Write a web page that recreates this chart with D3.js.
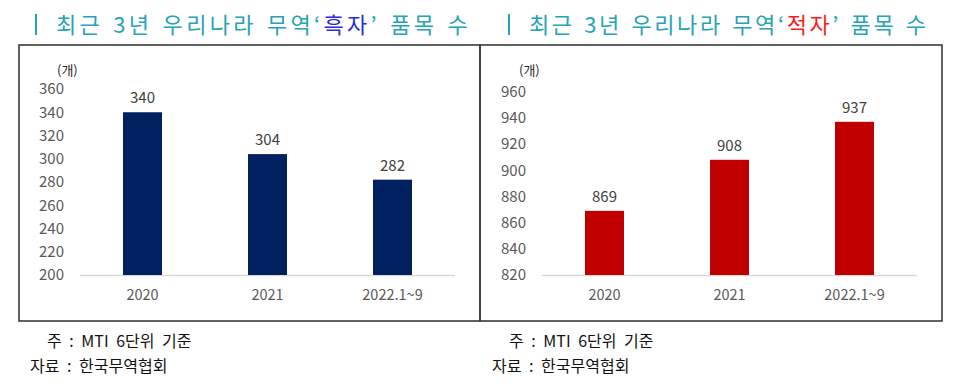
<!DOCTYPE html>
<html>
<head>
<meta charset="utf-8">
<script src="https://cdn.jsdelivr.net/npm/d3@7"></script>
<style>
  body { margin: 0; background: #fff; }
  svg text { font-family: "Noto Sans CJK KR", "Noto Sans", sans-serif; }
</style>
</head>
<body>
<svg id="chart" width="960" height="384"></svg>
<script>
// data
var years = ['2020', '2021', '2022.1~9'];
var surplusCounts = [340, 304, 282];
var deficitCounts = [869, 908, 937];
var surplusTicks = [200, 220, 240, 260, 280, 300, 320, 340, 360];
var deficitTicks = [820, 840, 860, 880, 900, 920, 940, 960];
var unitLabel = '(개)';
var note1 = '주 : MTI 6단위 기준';
var note2 = '자료 : 한국무역협회';

const svg = d3.select('#chart');

function drawPanel(opt) {
  const g = svg.append('g');

  // frame
  g.append('rect')
    .attr('x', opt.boxX).attr('y', 45)
    .attr('width', opt.boxW).attr('height', 276)
    .attr('fill', 'none')
    .attr('stroke', '#3a3a3a')
    .attr('stroke-width', 1.6);

  // title
  g.append('rect')
    .attr('x', opt.titleX).attr('y', 14)
    .attr('width', 2).attr('height', 21)
    .attr('fill', '#26a3b6');
  const t = g.append('text')
    .attr('x', opt.titleX + 21).attr('y', 33)
    .style('font-size', '22px')
    .style('letter-spacing', opt.titleSpacing + 'px')
    .style('word-spacing', '2px')
    .attr('fill', '#26a3b6');
  t.append('tspan').text('최근 3년 우리나라 무역‘');
  t.append('tspan').attr('fill', opt.wordColor).text(opt.word);
  t.append('tspan').text('’ 품목 수');

  const x = d3.scaleBand()
    .domain(opt.cats)
    .range([opt.plotX0, opt.plotX1])
    .paddingInner(0.688)
    .paddingOuter(0.344);

  const y = d3.scaleLinear()
    .domain([opt.ticks[0], opt.ticks[opt.ticks.length - 1]])
    .range([275, opt.topY]);

  // y axis labels
  const yAxis = d3.axisLeft(y).tickValues(opt.ticks).tickSize(0).tickPadding(0);
  const ya = g.append('g')
    .attr('transform', `translate(${opt.labelX},0)`)
    .call(yAxis);
  ya.select('.domain').remove();
  ya.selectAll('text')
    .style('font-size', '15px')
    .style('font-family', '"Noto Sans CJK KR", sans-serif')
    .attr('fill', '#595959');

  g.append('text')
    .attr('x', opt.labelX - 7).attr('y', 75)
    .style('font-size', '13px')
    .attr('fill', '#262626')
    .text(unitLabel);

  // baseline
  g.append('line')
    .attr('x1', opt.plotX0).attr('x2', opt.plotX1)
    .attr('y1', 275.5).attr('y2', 275.5)
    .attr('stroke', '#d9d9d9')
    .attr('stroke-width', 1.5);

  // bars
  g.selectAll('rect.bar')
    .data(opt.values)
    .join('rect')
    .attr('class', 'bar')
    .attr('x', (d, i) => x(opt.cats[i]))
    .attr('y', d => y(d))
    .attr('width', x.bandwidth())
    .attr('height', d => y(opt.ticks[0]) - y(d))
    .attr('fill', opt.barColor);

  // value labels
  g.selectAll('text.val')
    .data(opt.values)
    .join('text')
    .attr('class', 'val')
    .attr('x', (d, i) => x(opt.cats[i]) + x.bandwidth() / 2)
    .attr('y', d => y(d) - 9)
    .attr('text-anchor', 'middle')
    .style('font-size', '15px')
    .attr('fill', '#404040')
    .text(d => d);

  // x labels
  const xAxis = d3.axisBottom(x).tickSize(0).tickPadding(0);
  const xa = g.append('g')
    .attr('transform', 'translate(0,290)')
    .call(xAxis);
  xa.select('.domain').remove();
  xa.selectAll('text')
    .attr('dy', '0.71em')
    .style('font-size', '14.5px')
    .style('font-family', '"Noto Sans CJK KR", sans-serif')
    .attr('fill', '#595959');

  // notes
  g.append('text')
    .attr('x', opt.noteX + 17).attr('y', 347)
    .style('font-size', '16px')
    .style('word-spacing', '4px')
    .attr('fill', '#111')
    .text(note1);
  g.append('text')
    .attr('x', opt.noteX).attr('y', 372)
    .style('font-size', '16px')
    .style('word-spacing', '4px')
    .attr('fill', '#111')
    .text(note2);
}

drawPanel({
  boxX: 19, boxW: 461,
  titleX: 35, titleSpacing: 3.3,
  word: '흑자', wordColor: '#2b2be0',
  cats: years, values: surplusCounts, ticks: surplusTicks,
  barColor: '#002060',
  plotX0: 80, plotX1: 455,
  labelX: 64, topY: 89,
  noteX: 30
});

drawPanel({
  boxX: 480, boxW: 462,
  titleX: 508, titleSpacing: 2.6,
  word: '적자', wordColor: '#ff1a1a',
  cats: years, values: deficitCounts, ticks: deficitTicks,
  barColor: '#c00000',
  plotX0: 542, plotX1: 917,
  labelX: 526, topY: 91.7,
  noteX: 492
});
</script>
</body>
</html>
